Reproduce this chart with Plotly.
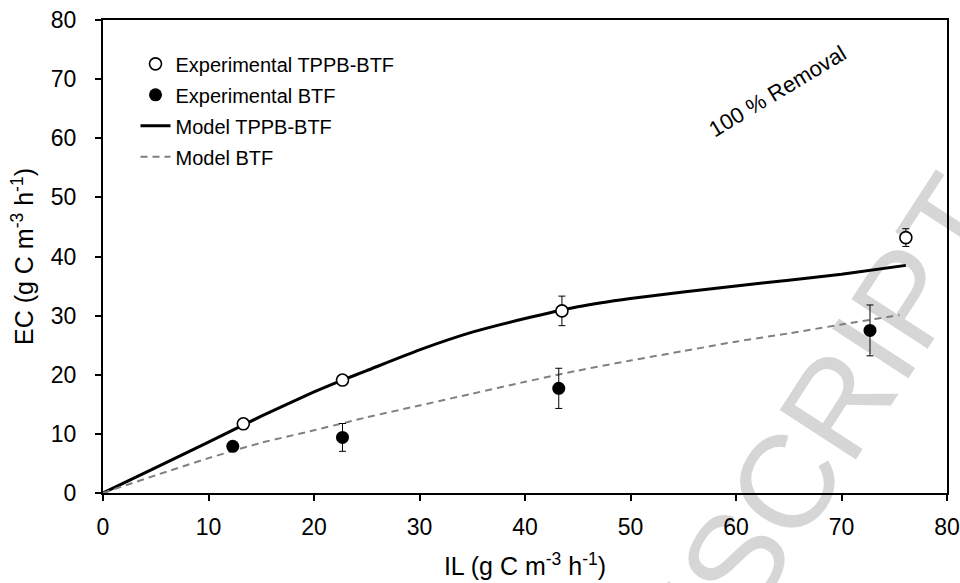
import plotly.graph_objects as go

# Experimental elimination capacity vs inlet load
il_tppb = [13.3, 22.7, 43.5, 76.1]
ec_tppb = [11.7, 19.1, 30.8, 43.2]
err_tppb = [0.4, 0.5, 2.5, 1.5]

il_btf = [12.3, 22.7, 43.2, 72.7]
ec_btf = [7.9, 9.4, 17.7, 27.5]
err_btf = [0.3, 2.35, 3.4, 4.3]

# Model predictions
il_model_tppb = [0, 5, 10, 15, 20, 22.7, 25, 30, 35, 40, 45, 50, 55, 60, 65, 70, 76.1]
ec_model_tppb = [0, 4.3, 8.6, 13.0, 17.1, 19.1, 20.7, 24.2, 27.2, 29.5, 31.5, 32.9, 34.0, 35.0, 36.0, 37.0, 38.5]

il_model_btf = [0, 5, 10, 15, 20, 25, 30, 35, 40, 45, 50, 55, 60, 65, 70, 75.5]
ec_model_btf = [0, 3.0, 5.9, 8.5, 10.6, 12.8, 14.8, 16.8, 18.8, 20.7, 22.4, 24.0, 25.6, 27.0, 28.5, 30.1]

x_ticks = [0, 10, 20, 30, 40, 50, 60, 70, 80]
y_ticks = [0, 10, 20, 30, 40, 50, 60, 70, 80]

FONT = "Liberation Sans, Arial, sans-serif"

fig = go.Figure()

fig.add_trace(go.Scatter(
    x=il_model_tppb, y=ec_model_tppb, mode="lines", name="Model TPPB-BTF",
    line=dict(color="black", width=3, shape="spline", smoothing=0.5),
    legendgroup="c", legendrank=3,
))
fig.add_trace(go.Scatter(
    x=il_model_btf, y=ec_model_btf, mode="lines", name="Model BTF",
    line=dict(color="#808080", width=2, dash="7px,5px", shape="spline", smoothing=0.5),
    legendgroup="d", legendrank=4,
))
fig.add_trace(go.Scatter(
    x=il_tppb, y=ec_tppb, mode="markers", name="Experimental TPPB-BTF",
    marker=dict(symbol="circle", size=12, color="white", line=dict(color="black", width=1.6)),
    error_y=dict(type="data", array=err_tppb, color="black", thickness=1, width=3.5),
    legendgroup="a", legendrank=1,
))
fig.add_trace(go.Scatter(
    x=il_btf, y=ec_btf, mode="markers", name="Experimental BTF",
    marker=dict(symbol="circle", size=13, color="black"),
    error_y=dict(type="data", array=err_btf, color="black", thickness=1, width=3.5),
    legendgroup="b", legendrank=2,
))

axis_common = dict(
    range=[0, 80], showline=True, linewidth=2, linecolor="black", mirror=True,
    ticks="outside", ticklen=6, tickwidth=2, tickcolor="black",
    showgrid=False, zeroline=False,
    tickfont=dict(family=FONT, size=23, color="black"),
)

fig.update_xaxes(
    **axis_common, tickvals=x_ticks, ticktext=[str(v) for v in x_ticks],
    ticklabelstandoff=6,
    title=dict(text="IL (g C m<sup>-3</sup> h<sup>-1</sup>)",
               font=dict(family=FONT, size=25, color="black"), standoff=19),
)
fig.update_yaxes(
    **axis_common, tickvals=y_ticks, ticktext=[str(v) for v in y_ticks],
    ticklabelstandoff=14,
    title=dict(text="EC (g C m<sup>-3</sup> h<sup>-1</sup>)",
               font=dict(family=FONT, size=25, color="black"), standoff=10),
)

fig.add_annotation(
    x=63.9, y=67.9, xref="x", yref="y", text="100 % Removal", showarrow=False,
    textangle=-31, font=dict(family=FONT, size=22, color="black"),
)

# Diagonal watermark behind the plot
fig.add_shape(
    type="line", xref="paper", yref="paper",
    x0=0.7071, y0=-0.2101, x1=0.7716, y1=-0.0330,
    line=dict(color="rgba(0,0,0,0)", width=0), layer="below",
    label=dict(text="MANUSCRIPT", textangle=-57, textposition="middle",
               xanchor="center", yanchor="middle",
               font=dict(family=FONT, size=132, color="#d6d6d6")),
)

fig.update_layout(
    width=960, height=583,
    margin=dict(l=103, r=13, t=20, b=90, autoexpand=False),
    paper_bgcolor="white", plot_bgcolor="rgba(0,0,0,0)",
    showlegend=True,
    legend=dict(
        x=0.0385, y=0.9485, xanchor="left", yanchor="top",
        bgcolor="rgba(0,0,0,0)", borderwidth=0,
        font=dict(family=FONT, size=20, color="black"),
        tracegroupgap=2, traceorder="grouped",
    ),
)

fig.write_html("out.html")
